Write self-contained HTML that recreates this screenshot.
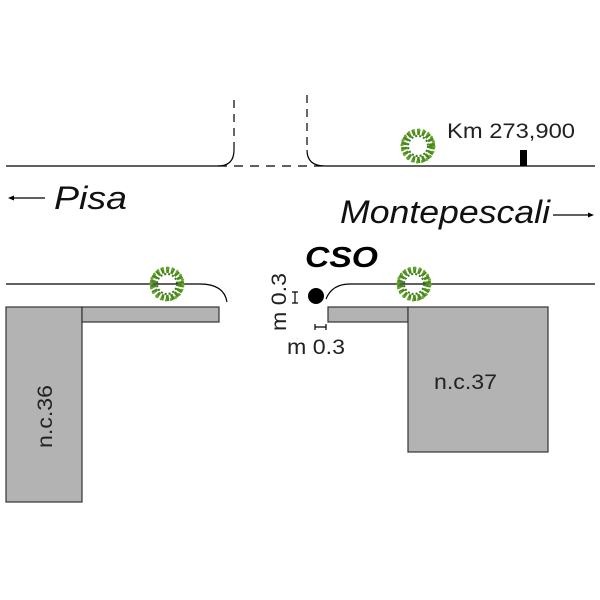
<!DOCTYPE html>
<html><head><style>body{margin:0;background:#fff}svg{display:block}</style></head>
<body>
<svg width="600" height="600" viewBox="0 0 600 600" xmlns="http://www.w3.org/2000/svg" font-family="Liberation Sans, sans-serif">
<defs>
<g id="tree">
<circle r="14" fill="none" stroke="#4a8a1c" stroke-width="6" stroke-dasharray="3 2"/>
<circle r="16" fill="none" stroke="#6aa82a" stroke-width="3" stroke-dasharray="2 3"/>
<circle r="10" fill="none" stroke="#3d7a14" stroke-width="2" stroke-dasharray="2 2"/>
</g>
</defs>
<g fill="none" stroke="#000" stroke-width="1.2">
<path d="M6 166 H218 Q234 166 234 150"/>
<path d="M234 150 V95" stroke-dasharray="8 6"/>
<path d="M218 166 H325" stroke-dasharray="9 7"/>
<path d="M307 95 V150" stroke-dasharray="8 6"/>
<path d="M307 150 Q307 166 325 166 H595"/>
<path d="M6 284 H200 Q224 284 227 302"/>
<path d="M326 299 Q332 284 350 284 H595"/>
<path d="M10 198 H45"/>
<path d="M553 215 H591"/>
</g>
<path d="M8 198 l6 -2.5 v5z"/>
<path d="M594 215 l-6 -2.5 v5z"/>
<rect x="520" y="150" width="7" height="16" fill="#000"/>
<g fill="#b3b3b3" stroke="#333" stroke-width="1.2">
<rect x="6" y="307" width="76" height="195"/>
<rect x="82" y="307" width="137" height="15"/>
<rect x="328" y="307" width="80" height="15"/>
<rect x="408" y="307" width="140" height="145"/>
</g>
<use href="#tree" x="418" y="146"/>
<use href="#tree" x="167" y="284"/>
<use href="#tree" x="414" y="284"/>
<circle cx="316" cy="296" r="8" fill="#000"/>
<g stroke="#000" stroke-width="1.2">
<path d="M295 292 V303 M292 292 H298 M292 303 H298"/>
<path d="M315 327 H326 M315 324 V330 M326 324 V330"/>
</g>
<text x="447" y="138" font-size="21" fill="#222" textLength="128" lengthAdjust="spacingAndGlyphs">Km 273,900</text>
<text x="54" y="209" font-size="32" font-style="italic" fill="#111" textLength="73" lengthAdjust="spacingAndGlyphs">Pisa</text>
<text x="340" y="223" font-size="32" font-style="italic" fill="#111" textLength="210" lengthAdjust="spacingAndGlyphs">Montepescali</text>
<text x="305" y="267" font-size="29" font-weight="bold" font-style="italic" fill="#000" textLength="73" lengthAdjust="spacingAndGlyphs">CSO</text>
<text x="287" y="354" font-size="21" fill="#222" textLength="58" lengthAdjust="spacingAndGlyphs">m 0.3</text>
<text transform="translate(286 331) rotate(-90)" font-size="21" fill="#222" textLength="58" lengthAdjust="spacingAndGlyphs">m 0.3</text>
<text x="434" y="389" font-size="21" fill="#222" textLength="63" lengthAdjust="spacingAndGlyphs">n.c.37</text>
<text transform="translate(52 448) rotate(-90)" font-size="21" fill="#222" textLength="63" lengthAdjust="spacingAndGlyphs">n.c.36</text>
</svg>
</body></html>
